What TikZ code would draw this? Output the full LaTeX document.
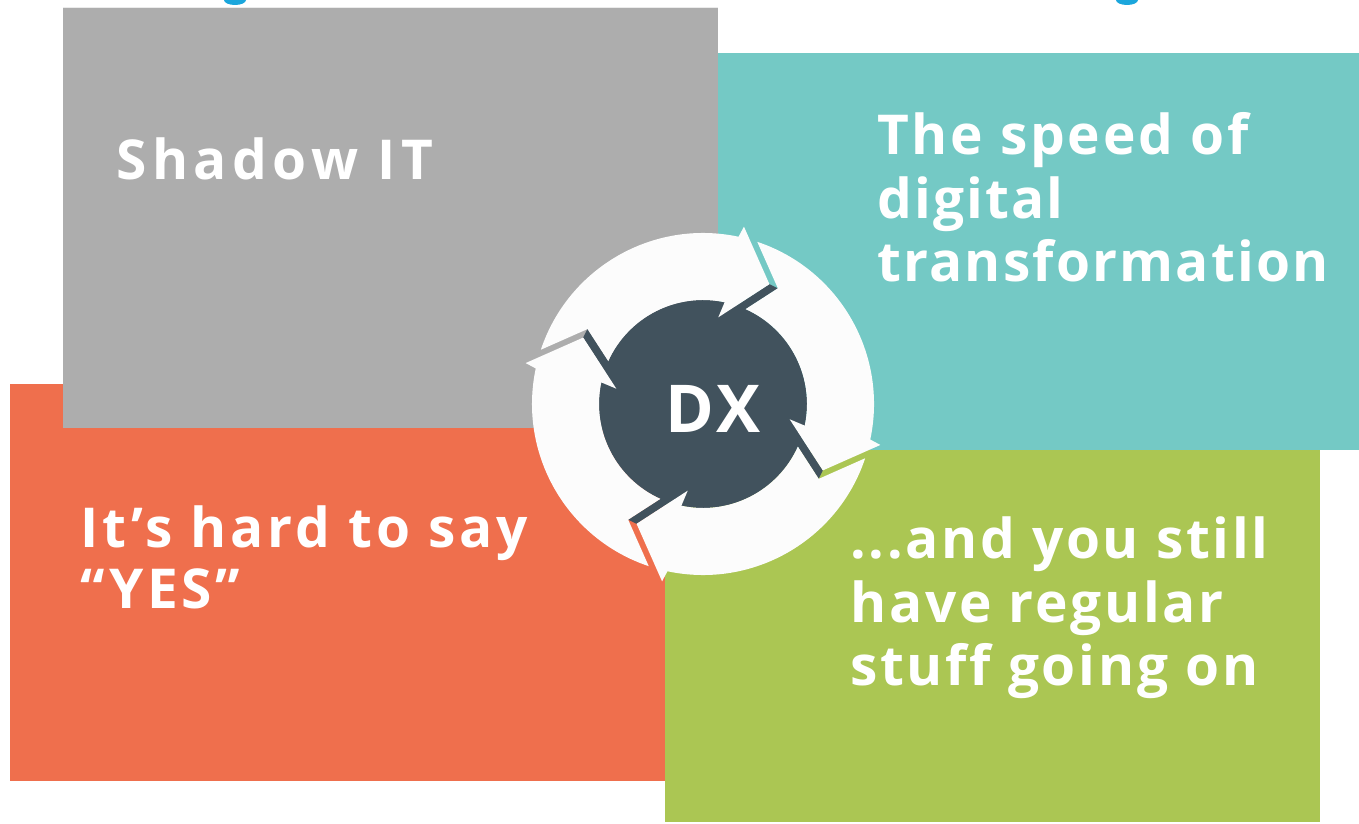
\documentclass[tikz,border=0pt]{standalone}
\usepackage{fontspec}
\newfontfamily\panelfont{Open Sans}[LetterSpace=4,Ligatures=NoCommon]
\usetikzlibrary{positioning}
\definecolor{shadowgray}{HTML}{ADADAD}
\definecolor{speedteal}{HTML}{74C9C5}
\definecolor{yescoral}{HTML}{EF6F4D}
\definecolor{stuffgreen}{HTML}{ABC653}
\definecolor{dxslate}{HTML}{41525D}
\definecolor{ringwhite}{HTML}{FCFCFC}
\definecolor{titlecyan}{HTML}{1BA6DC}

\begin{document}
\begin{tikzpicture}[x=1pt,y=1pt,
        panel/.style={text=white,font=\panelfont\bfseries\fontsize{55}{64}\selectfont,anchor=base west,inner sep=0pt},
        dxlabel/.style={text=white,font=\panelfont\bfseries\fontsize{66}{70}\selectfont,anchor=base,inner sep=0pt}]
   \useasboundingbox (0,0) rectangle (1359,823);
   \fill[white] (0,0) rectangle (1359,823);
   % boxes
   \fill[yescoral] (10,42) rectangle (665,439);
   \fill[shadowgray] (63,395) rectangle (718,815);
   \draw[white!75!shadowgray,line width=1pt] (63,815) -- (718,815);
   \fill[speedteal] (718,373) rectangle (1359,770);
   \fill[stuffgreen] (665,1) rectangle (1320,373);
   \fill[titlecyan] (224,823) arc[start angle=180,end angle=360,x radius=11,y radius=5];
   \fill[titlecyan] (1116,823) arc[start angle=180,end angle=360,x radius=11,y radius=5];

   % cycle in the middle
   \fill[dxslate] (703,419) circle[radius=104];
   \foreach \k in {0,...,3}{
     \begin{scope}[shift={(703,419)},rotate=-90*\k]
       \fill[dxslate] (61:137) -- (57.1:137.8) -- (74:85.9) -- (80:88) -- cycle;
       \fill[ringwhite] (161.5:171) arc[start angle=161.5,end angle=78,radius=171]
          -- (77:182) -- (61:137) -- (80:88) -- (78:104)
          arc[start angle=78,end angle=155.8,radius=104] -- (147.1:137.8) -- cycle;
     \end{scope}
   }
   \node[dxlabel] (dx) at (713,391) {DX};

   % texts
   \node[panel] (shadow) at (116,643) {\addfontfeatures{LetterSpace=10}Shadow IT};
   \node[panel] (speed1) at (877,668) {\addfontfeatures{LetterSpace=5}The speed of};
   \node[panel] (speed2) at (877,604) {digital};
   \node[panel] (speed3) at (877,541) {transformation};
   \node[panel] (yes1) at (80,276) {\addfontfeatures{LetterSpace=7}It’s hard to say};
   \node[panel] (yes2) at (80,215) {\addfontfeatures{LetterSpace=7}“YES”};
   \node[panel] (stuff1) at (850,265) {\addfontfeatures{LetterSpace=5}...and you still};
   \node[panel] (stuff2) at (850,201) {\addfontfeatures{LetterSpace=5}have regular};
   \node[panel] (stuff3) at (850,138) {\addfontfeatures{LetterSpace=5}stuff going on};
\end{tikzpicture}
\end{document}
